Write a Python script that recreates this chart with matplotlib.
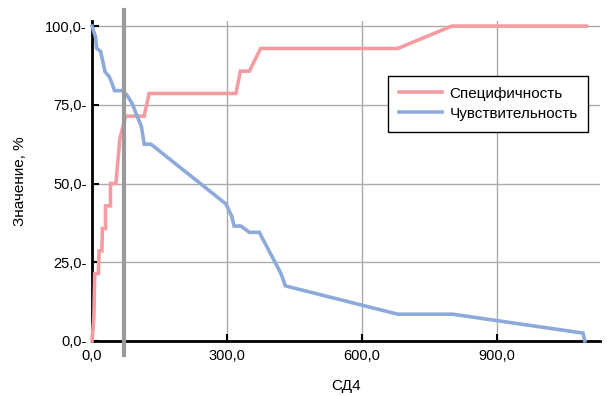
import matplotlib.pyplot as plt

plt.rcParams['font.family'] = ['Liberation Sans', 'DejaVu Sans']

# Specificity (pink)
spec_x = [0, 4, 6, 14, 16, 22, 23, 30, 30, 41, 41, 53, 62, 75, 116, 127,
          320, 330, 350, 375, 680, 800, 1100]
spec_y = [0, 7.1, 21.4, 21.4, 28.6, 28.6, 35.7, 35.7, 42.9, 42.9, 50.0, 50.0,
          64.3, 71.4, 71.4, 78.6, 78.6, 85.7, 85.7, 92.9, 92.9, 100, 100]

# Sensitivity (blue)
sens_x = [0, 8, 10, 19, 29, 38, 44, 50, 67, 78, 89, 110, 116, 131, 298, 311,
          316, 331, 350, 372, 420, 430, 680, 802, 1092, 1096]
sens_y = [100, 96.5, 93, 92, 85.5, 84, 82, 79.5, 79.5, 78, 75.5, 68, 62.5, 62.5,
          43.5, 39.5, 36.5, 36.5, 34.5, 34.5, 21.5, 17.5, 8.5, 8.5, 2.5, 0]

cutoff = 72

x_ticks = [0, 300, 600, 900]
y_ticks = [0, 25, 50, 75, 100]

fig = plt.figure(figsize=(6.07, 3.96), dpi=100)
ax = fig.add_axes([0.1516, 0.139, 0.837, 0.807])

ax.plot(spec_x, spec_y, color='#F59CA3', lw=2.6, label='Специфичность',
        solid_joinstyle='miter', clip_on=False, zorder=3)
ax.plot(sens_x, sens_y, color='#8DAADB', lw=2.6, label='Чувствительность',
        solid_joinstyle='miter', clip_on=False, zorder=3)

ax.axvline(cutoff, ymin=-0.044, ymax=1.035, color='#9A9A9A', lw=3,
           clip_on=False, zorder=4)

ax.set_xlim(0, 1130)
ax.set_ylim(0, 101.5)

ax.set_xticks(x_ticks)
ax.set_xticklabels([f"{v:.1f}".replace('.', ',') for v in x_ticks], fontsize=10.5)
ax.set_yticks(y_ticks)
ax.set_yticklabels([f"{v:.1f}".replace('.', ',') + '-' for v in y_ticks], fontsize=10.5)
ax.tick_params(axis='both', direction='in', length=5, width=1.5, color='black')
ax.tick_params(axis='y', pad=4)
ax.tick_params(axis='x', pad=6)

ax.grid(True, color='#AAAAAA', lw=1)
ax.set_axisbelow(True)

ax.spines[['top', 'right']].set_visible(False)
for s in ['left', 'bottom']:
    ax.spines[s].set_linewidth(2)
    ax.spines[s].set_color('black')

ax.set_xlabel('СД4', fontsize=11, labelpad=11)
ax.set_ylabel('Значение, %', fontsize=11, labelpad=13)

leg = ax.legend(loc='upper left', bbox_to_anchor=(0.583, 0.829), borderaxespad=0,
                fontsize=11, fancybox=False, framealpha=1, handlelength=2.8,
                labelspacing=0.4, borderpad=0.7, handletextpad=0.5)
leg.get_frame().set_edgecolor('black')
leg.get_frame().set_linewidth(1)

plt.savefig('out.png', dpi=100)
